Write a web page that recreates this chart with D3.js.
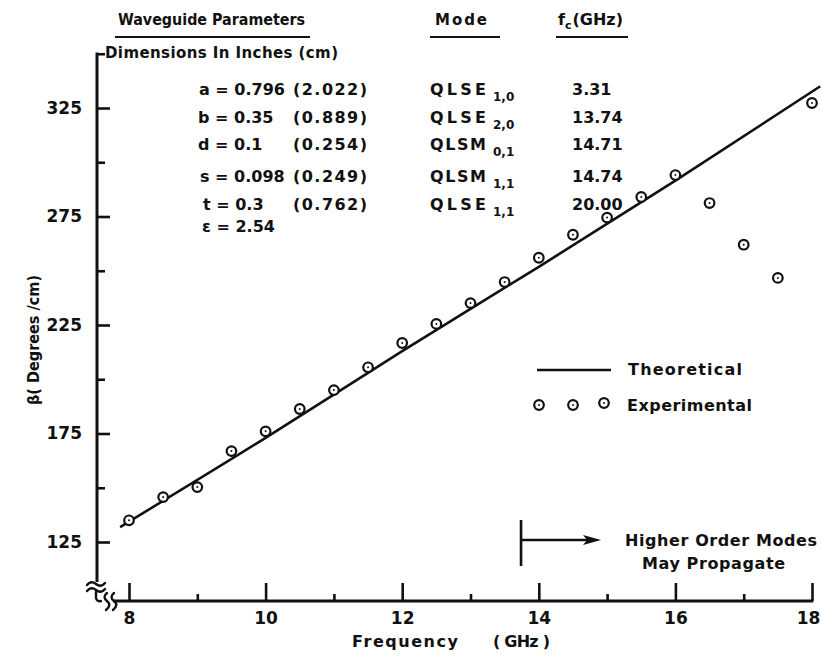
<!DOCTYPE html>
<html>
<head>
<meta charset="utf-8">
<script src="https://cdn.jsdelivr.net/npm/d3@7"></script>
<style>
  html, body { margin: 0; padding: 0; background: #fff; }
  svg { display: block; }
  text { font-family: "DejaVu Sans", sans-serif; font-weight: bold; fill: #111; }
</style>
</head>
<body>
<script>
// Measured phase constant vs frequency (GHz), every 0.5 GHz
const freqGHz = [8, 8.5, 9, 9.5, 10, 10.5, 11, 11.5, 12, 12.5, 13, 13.5, 14, 14.5, 15, 15.5, 16, 16.5, 17, 17.5, 18];
const betaMeasured = [135, 145.7, 150.3, 166.9, 176, 186.3, 195, 205.5, 216.7, 225.5, 235.1, 244.8, 256, 266.6, 274.5, 284, 294.1, 281.2, 262, 246.7, 327.3];

// Theoretical dispersion curve
const theoryFreq = [7.87, 10, 12, 14, 16, 18.12];
const theoryBeta = [131.9, 173, 213, 251.8, 291.5, 335];

// Axis ticks
const xMajor = [8, 10, 12, 14, 16, 18];
const xMinor = [9, 11, 13, 15, 17];
const yMajor = [125, 175, 225, 275, 325];
const yMinor = [150, 200, 250, 300, 350];

// Parameter table
const paramLeft = ["a = 0.796", "b = 0.35", "d = 0.1", "s = 0.098", "t = 0.3", "\u03B5 = 2.54"];
const paramCm = ["(2.022)", "(0.889)", "(0.254)", "(0.249)", "(0.762)", ""];
const modeNames = ["QLSE", "QLSE", "QLSM", "QLSM", "QLSE"];
const modeSubs = ["1,0", "2,0", "0,1", "1,1", "1,1"];
const cutoffGHz = ["3.31", "13.74", "14.71", "14.74", "20.00"];
const higherModeCutoff = 13.74;

const W = 822, H = 656;
const svg = d3.select("body").append("svg").attr("width", W).attr("height", H);

const x = d3.scaleLinear().domain([8, 18]).range([129, 812]);
const y = d3.scaleLinear().domain([125, 325]).range([542, 108]);
const axisY0 = 601;   // x-axis baseline
const axisX0 = 97;    // y-axis position

const ink = "#111";

// ---- X axis ----
const gx = svg.append("g").attr("transform", `translate(0,${axisY0})`);
gx.call(d3.axisBottom(x).tickValues(xMajor).tickSize(-18).tickPadding(11).tickFormat(d3.format("d")));
gx.append("g").call(d3.axisBottom(x).tickValues(xMinor).tickSize(-7).tickFormat(""));
gx.selectAll(".domain").remove();
gx.selectAll("line").attr("stroke", ink).attr("stroke-width", 2.6);
gx.selectAll("text").attr("font-size", 17).attr("fill", ink).style("font-family", "DejaVu Sans").style("font-weight", "bold")
  .attr("dx", d => d === 18 ? -4 : 0);
svg.append("line").attr("x1", 113).attr("x2", x(18) + 1.3).attr("y1", axisY0).attr("y2", axisY0)
  .attr("stroke", ink).attr("stroke-width", 3);

// ---- Y axis ----
const gy = svg.append("g").attr("transform", `translate(${axisX0},0)`);
gy.call(d3.axisLeft(y).tickValues(yMajor).tickSize(-13).tickPadding(15).tickFormat(d3.format("d")));
gy.append("g").call(d3.axisLeft(y).tickValues(yMinor).tickSize(-8).tickFormat(""));
gy.selectAll(".domain").remove();
gy.selectAll("line").attr("stroke", ink).attr("stroke-width", 2.6);
gy.selectAll("text").attr("font-size", 17).attr("fill", ink).style("font-family", "DejaVu Sans").style("font-weight", "bold");
svg.append("line").attr("x1", axisX0).attr("x2", axisX0).attr("y1", y(350) - 1.3).attr("y2", 582)
  .attr("stroke", ink).attr("stroke-width", 3);

// ---- Axis break symbols ----
const brk = svg.append("g").attr("fill", "none").attr("stroke", ink).attr("stroke-width", 2.4).attr("stroke-linecap", "round");
brk.append("path").attr("d", "M87,585 q4,-5 9,-1 t9,-1");
brk.append("path").attr("d", "M87,591 q4,-5 9,-1 t9,-1");
brk.append("path").attr("d", "M96,592 L96,598 q1,4 5,3");
brk.append("path").attr("d", "M107,593 q-5,4 0,8 t-1,9");
brk.append("path").attr("d", "M114,593 q-5,4 0,8 t-1,9");

// ---- Axis titles ----
svg.append("text").attr("x", 352).attr("y", 647).attr("font-size", 16)
  .attr("textLength", 106).attr("lengthAdjust", "spacing").text("Frequency");
svg.append("text").attr("x", 493).attr("y", 647).attr("font-size", 16)
  .attr("textLength", 57).attr("lengthAdjust", "spacing").text("( GHz )");
svg.append("text").attr("transform", "translate(39,340) rotate(-90)").attr("text-anchor", "middle")
  .attr("font-size", 16).attr("textLength", 130).attr("lengthAdjust", "spacingAndGlyphs")
  .text("\u03B2( Degrees /cm)");

// ---- Theoretical curve ----
const theory = theoryFreq.map((f, i) => [f, theoryBeta[i]]);
svg.append("path").datum(theory)
  .attr("d", d3.line().x(d => x(d[0])).y(d => y(d[1])).curve(d3.curveMonotoneX))
  .attr("fill", "none").attr("stroke", ink).attr("stroke-width", 2.6);

// ---- Measured points ----
function marker(sel, cx, cy) {
  sel.append("circle").attr("cx", cx).attr("cy", cy).attr("r", 4.8)
    .attr("fill", "#fff").attr("stroke", ink).attr("stroke-width", 2.2);
  sel.append("circle").attr("cx", cx).attr("cy", cy).attr("r", 1).attr("fill", ink);
}
const pts = svg.append("g");
freqGHz.forEach((f, i) => marker(pts, x(f), y(betaMeasured[i])));

// ---- Legend ----
svg.append("line").attr("x1", 537).attr("x2", 611).attr("y1", 370).attr("y2", 370)
  .attr("stroke", ink).attr("stroke-width", 2.6);
svg.append("text").attr("x", 628).attr("y", 375).attr("font-size", 16)
  .attr("textLength", 114).attr("lengthAdjust", "spacing").text("Theoretical");
const lg = svg.append("g");
[[539, 405], [573, 405], [604, 403]].forEach(p => marker(lg, p[0], p[1]));
svg.append("text").attr("x", 627).attr("y", 411).attr("font-size", 16)
  .attr("textLength", 125).attr("lengthAdjust", "spacing").text("Experimental");

// ---- Higher-order mode marker ----
const hx = x(higherModeCutoff);
svg.append("line").attr("x1", hx).attr("x2", hx).attr("y1", 520).attr("y2", 566)
  .attr("stroke", ink).attr("stroke-width", 2.6);
svg.append("line").attr("x1", hx).attr("x2", hx + 70).attr("y1", 540).attr("y2", 540)
  .attr("stroke", ink).attr("stroke-width", 2.4);
svg.append("path").attr("d", `M${hx + 80},540 L${hx + 62},535 L${hx + 66},540 L${hx + 62},545 Z`).attr("fill", ink);
svg.append("text").attr("x", 625).attr("y", 546).attr("font-size", 16)
  .attr("textLength", 192).attr("lengthAdjust", "spacing").text("Higher Order Modes");
svg.append("text").attr("x", 642).attr("y", 569).attr("font-size", 16)
  .attr("textLength", 143).attr("lengthAdjust", "spacing").text("May Propagate");

// ---- Parameter table ----
const hdr = svg.append("g").attr("font-size", 15);
hdr.append("text").attr("x", 118).attr("y", 25).attr("textLength", 187).attr("lengthAdjust", "spacingAndGlyphs").text("Waveguide Parameters");
hdr.append("text").attr("x", 435).attr("y", 25).attr("textLength", 52).attr("lengthAdjust", "spacing").text("Mode");
const fc = hdr.append("text").attr("x", 558).attr("y", 25).attr("font-size", 16);
fc.append("tspan").text("f");
fc.append("tspan").attr("font-size", 11).attr("dy", 4).text("c");
fc.append("tspan").attr("dy", -4).attr("dx", 1).text("(GHz)");
hdr.append("text").attr("x", 105).attr("y", 58).attr("textLength", 233).attr("lengthAdjust", "spacing").text("Dimensions In Inches (cm)");
const ul = svg.append("g").attr("stroke", ink).attr("stroke-width", 2);
[[115, 310], [430, 500], [556, 628]].forEach(s => ul.append("line").attr("x1", s[0]).attr("x2", s[1]).attr("y1", 37).attr("y2", 37));

const rowY = [95, 123, 150, 182, 210, 232];
const rowLX = [199, 198, 198, 200, 203, 202];
const tbl = svg.append("g").attr("font-size", 16);
paramLeft.forEach((s, i) => {
  tbl.append("text").attr("x", rowLX[i]).attr("y", rowY[i]).text(s);
  if (paramCm[i]) tbl.append("text").attr("x", 293).attr("y", rowY[i])
    .attr("textLength", 74).attr("lengthAdjust", "spacing").text(paramCm[i]);
});
modeNames.forEach((m, i) => {
  tbl.append("text").attr("x", 430).attr("y", rowY[i])
    .attr("textLength", 56).attr("lengthAdjust", "spacing").text(m);
  tbl.append("text").attr("x", 493).attr("y", rowY[i] + 6).attr("font-size", 12).text(modeSubs[i]);
  tbl.append("text").attr("x", 572).attr("y", rowY[i]).text(cutoffGHz[i]);
});
</script>
</body>
</html>
